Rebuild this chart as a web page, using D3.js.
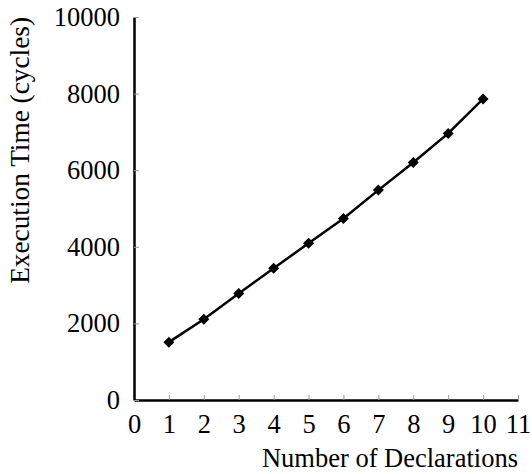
<!DOCTYPE html>
<html>
<head>
<meta charset="utf-8">
<script src="https://cdn.jsdelivr.net/npm/d3@7/dist/d3.min.js"></script>
<style>
  html, body { margin: 0; padding: 0; background: #fff; }
  svg { display: block; }
  text { font-family: "Liberation Serif", "Times New Roman", serif; fill: #000; }
</style>
</head>
<body>
<script>
// Execution time versus number of declarations
const declarations = [1, 2, 3, 4, 5, 6, 7, 8, 9, 10];
const cycles = [1510, 2110, 2780, 3440, 4090, 4740, 5480, 6200, 6960, 7860];
const xTicks = [0, 1, 2, 3, 4, 5, 6, 7, 8, 9, 10, 11];
const yTicks = [0, 2000, 4000, 6000, 8000, 10000];
const xTitle = "Number of Declarations";
const yTitle = "Execution Time (cycles)";

const W = 532, H = 474;
const plotLeft = 134, plotRight = 518, plotTop = 17, plotBottom = 400;
const fontSize = 26.5;

const svg = d3.select("body").append("svg").attr("width", W).attr("height", H);

const x = d3.scaleLinear().domain([0, 11]).range([plotLeft, plotRight]);
const y = d3.scaleLinear().domain([0, 10000]).range([plotBottom, plotTop]);

// Axes with short inward ticks
const xAxis = svg.append("g")
  .attr("transform", `translate(0,${plotBottom})`)
  .call(d3.axisBottom(x).tickValues(xTicks).tickFormat(d3.format("d"))
    .tickSizeInner(-5).tickSizeOuter(0).tickPadding(14));

const yAxis = svg.append("g")
  .attr("transform", `translate(${plotLeft},0)`)
  .call(d3.axisLeft(y).tickValues(yTicks).tickFormat(d3.format("d"))
    .tickSizeInner(-5).tickSizeOuter(0).tickPadding(14));

[xAxis, yAxis].forEach(g => {
  g.select(".domain").attr("stroke", "#000").attr("stroke-width", 2.5);
  g.selectAll(".tick line").attr("stroke", "#999").attr("stroke-width", 1);
  g.selectAll(".tick text")
    .attr("font-family", "Liberation Serif, serif")
    .attr("font-size", fontSize)
    .attr("fill", "#000");
});

// Data line
const line = d3.line()
  .x((d, i) => x(declarations[i]))
  .y(d => y(d));

svg.append("path")
  .datum(cycles)
  .attr("fill", "none")
  .attr("stroke", "#000")
  .attr("stroke-width", 2.5)
  .attr("d", line);

// Diamond markers
const r = 5.5;
svg.append("g").selectAll("path")
  .data(cycles)
  .join("path")
  .attr("transform", (d, i) => `translate(${x(declarations[i])},${y(d)})`)
  .attr("d", `M0,${-r}L${r},0L0,${r}L${-r},0Z`)
  .attr("fill", "#000");

// Axis titles
svg.append("text")
  .attr("x", plotRight)
  .attr("y", 467)
  .attr("text-anchor", "end")
  .attr("font-size", fontSize)
  .text(xTitle);

svg.append("text")
  .attr("transform", `translate(29,${plotTop}) rotate(-90)`)
  .attr("text-anchor", "end")
  .attr("font-size", 27.3)
  .text(yTitle);
</script>
</body>
</html>
